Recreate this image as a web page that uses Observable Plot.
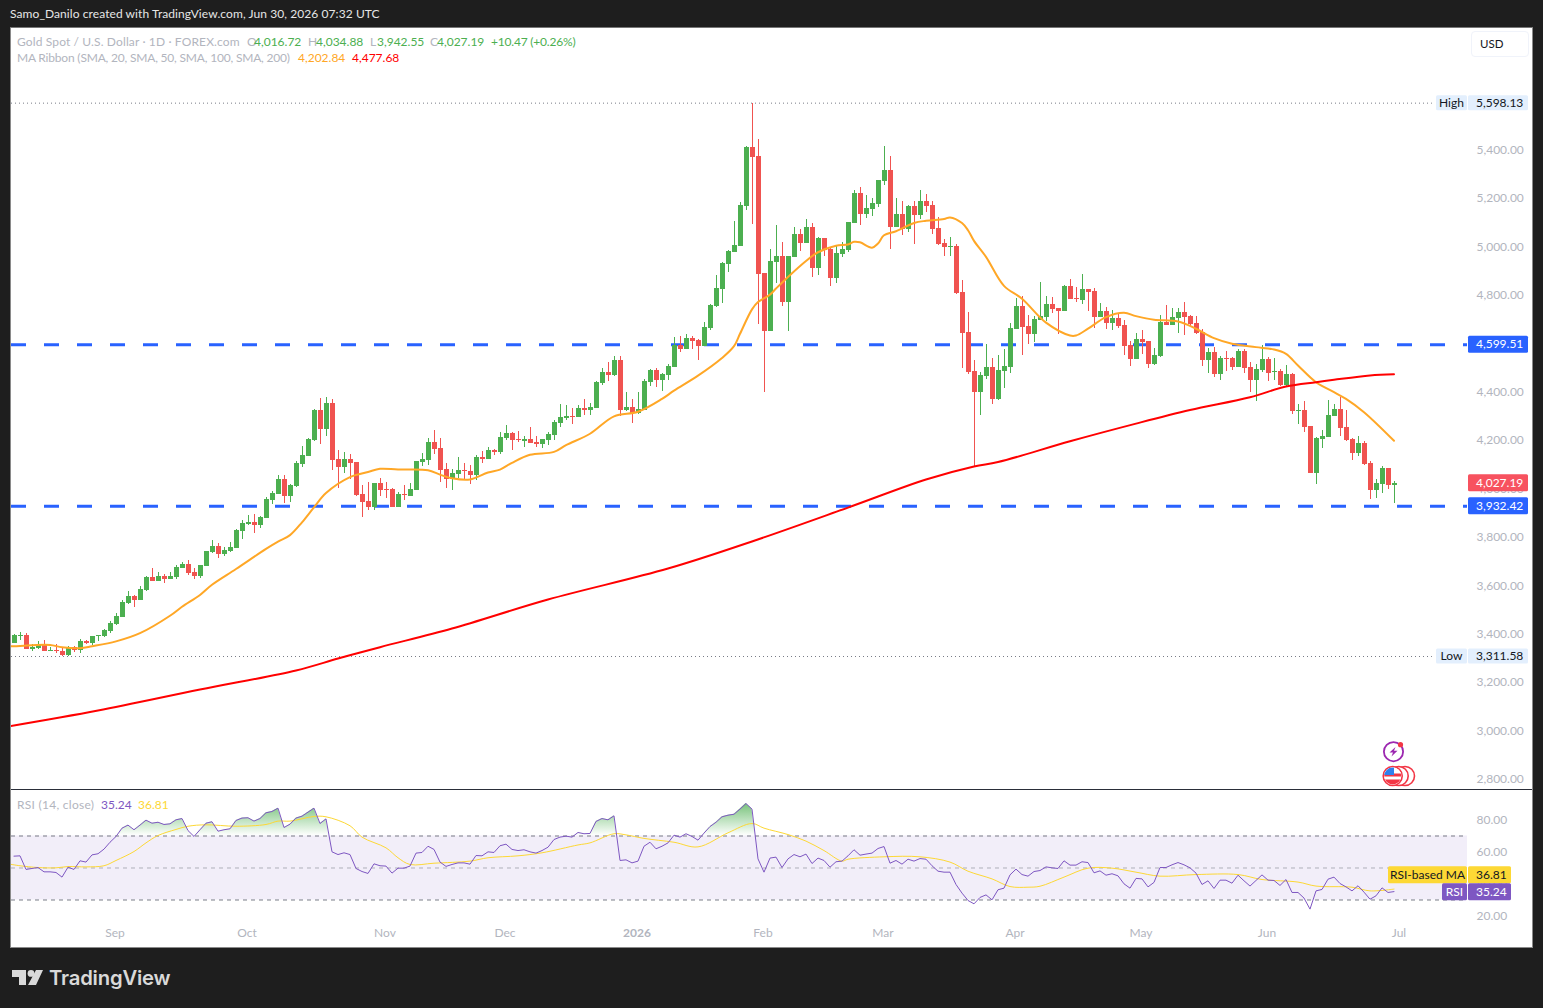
<!DOCTYPE html>
<html><head><meta charset="utf-8">
<script src="https://cdn.jsdelivr.net/npm/d3@7"></script>
<script src="https://cdn.jsdelivr.net/npm/@observablehq/plot@0.6"></script>
<style>
html,body{margin:0;padding:0;background:#1e1e1e;width:1543px;height:1008px;overflow:hidden;font-family:Lato,"Open Sans",sans-serif;font-size:12px}
#frame{position:absolute;left:10px;top:27px;width:1523px;height:921px;box-sizing:border-box;background:#fff;border:1px solid #8a8a8a;border-top-color:#777}
.t{position:absolute;white-space:pre;line-height:14px}
#price,#rsi{position:absolute;left:11px}
#price{top:28px}#rsi{top:790px}
#div{position:absolute;left:11px;top:789px;width:1521px;height:1px;background:#2a2e39}
svg{display:block;overflow:visible}
#usd{position:absolute;left:1471px;top:31px;width:58px;height:26px;box-sizing:border-box;border:1px solid #f0f3fa;border-radius:4px;background:#fff;color:#131722;line-height:24px;padding-left:8px;font-size:11.5px}
</style></head><body>
<div id="frame"></div>
<div class="t" style="left:10px;top:7px;color:#e6e6e6;letter-spacing:.08px">Samo_Danilo created with TradingView.com, Jun 30, 2026 07:32 UTC</div>
<div id="price"></div>
<div id="div"></div>
<div id="rsi"></div>
<div id="usd">USD</div>
<div id="legend"></div>
<svg style="position:absolute;left:0;top:0;pointer-events:none" width="1543" height="1008">
  <defs><clipPath id="fl"><circle cx="1392.7" cy="776" r="8.5"/></clipPath></defs>
  <g fill="#fff" stroke="#f23645" stroke-width="1.6">
    <circle cx="1405" cy="776" r="9.5"/><circle cx="1398.7" cy="776" r="9.5"/><circle cx="1392.7" cy="776" r="9.5"/>
  </g>
  <g clip-path="url(#fl)">
    <rect x="1384" y="767" width="18" height="18" fill="#fff"/>
    <rect x="1384" y="773.5" width="18" height="3" fill="#f23645"/>
    <rect x="1384" y="779.5" width="18" height="6" fill="#f23645"/>
    <rect x="1384" y="767" width="10" height="8" fill="#2f80ed"/>
  </g>
  <circle cx="1393.5" cy="751.7" r="9.6" fill="#fff" stroke="#9c27b0" stroke-width="1.8"/>
  <path d="M1395.5 747 L1389.5 752.5 L1393 752.5 L1391.5 756.5 L1397.5 750.8 L1394 750.8 Z" fill="#9c27b0"/>
  <circle cx="1400.5" cy="744.7" r="2.6" fill="#f23645"/>
  <g fill="#d9d9d9">
    <path d="M12 970 H26 V985 H19 V977 H12 Z"/><circle cx="31" cy="973.4" r="3.4"/><path d="M36 970 H43 L36 985 H28 Z"/>
  </g>
</svg>
<div class="t" style="left:49px;top:966px;color:#d9d9d9;font:600 20.3px/24px Inter,Lato,sans-serif;letter-spacing:-.2px">TradingView</div>
<script>
const opens=[3367,3394,3398,3342,3344,3356,3333,3335,3332,3314,
3349,3338,3372,3367,3394,3396,3416,3444,3474,3531,
3560,3545,3584,3637,3622,3642,3629,3637,3676,3691,
3658,3643,3684,3741,3766,3734,3745,3759,3829,3858,
3865,3854,3883,3958,3982,4043,3974,4014,4107,4140,
4205,4329,4250,4358,4126,4093,4126,4113,3981,3952,
3927,4026,4001,4001,3927,3981,3972,3997,4113,4121,
4196,4171,4084,4043,4063,4080,4076,4059,4134,4126,
4163,4155,4212,4233,4208,4200,4208,4196,4188,4204,
4225,4275,4295,4304,4299,4337,4328,4337,4440,4486,
4473,4535,4328,4341,4316,4328,4444,4494,4452,4473,
4506,4597,4580,4626,4618,4593,4667,4758,4828,4931,
4981,5006,5171,5415,5378,4894,4655,4940,4965,4774,
4960,5056,5018,5085,4915,5039,4993,4873,4973,4989,
5101,5225,5138,5159,5180,5275,5320,5085,5138,5076,
5171,5134,5192,5176,5080,5018,5002,5006,4815,4651,
4489,4402,4469,4506,4373,4489,4506,4663,4758,4675,
4642,4700,4713,4767,4750,4738,4841,4791,4783,4829,
4820,4713,4738,4688,4709,4680,4597,4539,4622,4613,
4518,4551,4692,4680,4709,4733,4717,4688,4651,4535,
4568,4477,4543,4543,4506,4572,4506,4452,4493,4539,
4485,4489,4431,4477,4324,4329,4262,4068,4209,4217,
4304,4333,4258,4209,4151,4192,4109,3997,4022,4089,4016.72];
const highs=[3402,3411,3405,3360,3373,3376,3350,3360,3350,3353,
3353,3383,3378,3395,3399,3422,3455,3489,3543,3580,
3564,3601,3644,3675,3658,3650,3658,3687,3702,3708,
3675,3688,3746,3791,3778,3760,3782,3836,3873,3894,
3898,3890,3969,3993,4060,4060,4021,4118,4180,4213,
4333,4378,4383,4374,4163,4155,4147,4114,4018,4030,
4027,4047,4030,4005,3989,4018,4026,4118,4150,4212,
4246,4212,4109,4084,4134,4109,4101,4142,4159,4175,
4167,4237,4266,4237,4241,4221,4258,4221,4209,4237,
4287,4353,4349,4337,4349,4374,4357,4448,4502,4527,
4552,4552,4403,4374,4403,4457,4498,4502,4481,4518,
4630,4634,4643,4634,4622,4692,4767,4886,4940,4989,
5109,5188,5420,5598.13,5448,4895,4993,5093,5023,4966,
5085,5076,5118,5101,5043,5040,4998,5010,5022,5106,
5238,5250,5217,5205,5280,5420,5378,5205,5192,5176,
5192,5238,5221,5192,5126,5035,5043,5014,4865,4734,
4535,4485,4601,4543,4556,4580,4688,4791,4800,4721,
4717,4858,4800,4796,4751,4845,4870,4837,4891,4830,
4833,4771,4754,4742,4729,4700,4613,4646,4659,4614,
4584,4721,4762,4750,4750,4775,4721,4717,4663,4584,
4589,4551,4572,4547,4580,4580,4526,4518,4597,4547,
4543,4497,4514,4481,4353,4366,4263,4217,4246,4370,
4354,4382,4329,4213,4221,4200,4118,4043,4097,4090,4034.88];
const lows=[3364,3378,3339,3333,3342,3332,3332,3325,3311.58,3312,
3328,3325,3361,3355,3373,3389,3408,3441,3473,3527,
3514,3543,3579,3621,3621,3614,3628,3631,3675,3647,
3629,3633,3683,3737,3716,3724,3742,3757,3796,3854,
3820,3842,3882,3940,3981,3944,3948,4011,4093,4138,
4200,4188,4221,4080,4007,4068,4043,3973,3885,3914,
3914,3972,3964,3926,3926,3956,3971,3996,4097,4101,
4146,4030,4005,3997,4047,4039,4022,4039,4109,4125,
4142,4146,4204,4163,4196,4175,4191,4175,4171,4183,
4204,4258,4287,4270,4298,4308,4308,4336,4432,4448,
4469,4304,4324,4275,4312,4327,4428,4424,4407,4452,
4505,4568,4579,4580,4535,4592,4659,4754,4770,4898,
4980,5005,5155,5097,4684,4402,4654,4853,4758,4655,
4959,4985,5017,4878,4886,4964,4840,4853,4960,4981,
5100,5093,5122,5130,5167,5258,4993,5084,5051,5064,
5014,5118,5147,5056,5010,4964,4964,4807,4502,4477,
4097,4307,4456,4353,4369,4419,4481,4662,4555,4601,
4609,4699,4696,4729,4642,4737,4786,4775,4767,4738,
4667,4712,4663,4659,4667,4555,4510,4538,4560,4502,
4514,4547,4679,4679,4646,4638,4671,4642,4510,4481,
4464,4452,4489,4493,4505,4481,4402,4365,4485,4448,
4452,4427,4423,4311,4271,4238,4067,4022,4171,4216,
4303,4221,4200,4122,4138,4101,3960,3964,3985,4002,3942.55];
const closes=[3398,3397,3342,3349,3357,3333,3336,3332,3314,3347,
3338,3373,3365,3394,3398,3418,3448,3477,3535,3560,
3545,3589,3637,3622,3642,3629,3642,3679,3691,3655,
3643,3687,3744,3766,3734,3749,3762,3832,3860,3865,
3854,3886,3960,3985,4043,3974,4018,4109,4142,4209,
4329,4250,4358,4123,4093,4126,4109,3977,3948,3927,
4026,3997,3997,3927,3981,3976,4001,4117,4126,4196,
4167,4080,4043,4068,4080,4076,4059,4134,4126,4163,
4155,4217,4233,4204,4204,4208,4192,4188,4208,4229,
4279,4299,4304,4299,4337,4328,4341,4444,4486,4473,
4535,4328,4341,4316,4333,4448,4494,4453,4477,4510,
4597,4580,4626,4614,4593,4672,4763,4832,4935,4985,
5010,5176,5416,5373,4890,4655,4944,4965,4774,4965,
5056,5018,5085,4915,5039,4989,4873,4977,4993,5105,
5225,5138,5163,5184,5279,5320,5085,5138,5076,5171,
5134,5192,5171,5076,5014,5002,5006,4811,4647,4485,
4402,4473,4506,4373,4493,4510,4667,4758,4671,4642,
4704,4717,4767,4746,4738,4841,4787,4787,4829,4816,
4713,4738,4688,4709,4675,4593,4539,4622,4609,4518,
4555,4692,4680,4713,4733,4713,4684,4646,4535,4568,
4477,4543,4539,4506,4572,4502,4452,4497,4539,4481,
4489,4431,4477,4324,4329,4258,4068,4213,4221,4308,
4333,4254,4204,4151,4192,4105,3997,4026,4089,4016.72,4027.19];

const ma20Bar=[-1,0,3,6,8,11,13,17,21,26,28,31,33,37,42,44,46,48,50,52,56,59,61,64,69,71,73,76,79,81,83,86,90,92,96,100,104,108,110,114,118,120,121,123,124,126,127,129,132,134,137,139,140,141,143,144,145,147,150,152,155,156,158,159,160,162,165,168,172,176,177,179,182,185,187,190,194,197,200,203,207,210,212,214,217,220,222,225,230];
const ma20Val=[3353,3354,3358,3359,3350,3346,3354,3374,3408,3480,3517,3566,3608,3673,3756,3786,3813,3866,3928,3987,4053,4074,4087,4084,4081,4063,4048,4043,4072,4084,4112,4145,4157,4185,4232,4304,4323,4376,4410,4472,4545,4594,4645,4746,4776,4807,4832,4880,4946,4982,5009,5014,5025,5023,5001,5018,5052,5069,5103,5112,5119,5126,5103,5073,5029,4963,4843,4790,4691,4638,4638,4666,4714,4732,4718,4703,4696,4666,4627,4604,4590,4580,4562,4514,4445,4404,4376,4321,4202.84];
const ma200Bar=[-1,14,31,47,54,61,73,89,109,123,139,152,160,164,176,187,196,206,212,217,220,226,230];
const ma200Val=[3022,3088,3175,3254,3303,3350,3427,3547,3675,3787,3927,4043,4097,4115,4201,4274,4330,4383,4427,4445,4455,4473,4477.68];

const rsiVal=[57.4,57.6,49.1,49.7,50.3,47.6,47.6,47.2,44.3,50.5,
49.1,54.5,53.7,58.2,58.9,61.8,66.1,69.7,74.9,76.8,
73.9,76.8,79.9,78.0,78.6,77.2,77.6,80.1,80.9,73.4,
69.7,73.9,78.0,78.9,73.0,73.9,74.5,79.7,81.2,81.4,
79.3,80.9,84.5,85.3,87.4,75.3,77.4,81.2,82.4,84.9,
87.4,77.8,80.7,60.1,58.4,59.5,58.4,49.7,47.8,46.6,
52.6,51.4,51.2,46.8,49.9,49.9,51.2,59.3,59.7,63.6,
61.6,53.7,51.0,52.2,53.2,53.2,52.4,57.8,57.6,60.1,
59.7,63.9,64.9,61.6,60.9,61.4,60.1,59.3,60.9,63.0,
67.8,69.3,69.9,69.3,72.2,71.4,71.6,79.1,80.9,80.1,
82.6,54.7,55.1,53.2,54.3,63.6,66.1,62.0,63.6,65.7,
70.5,69.3,71.4,69.7,67.4,71.8,75.9,78.6,82.0,83.0,
83.6,86.8,90.3,86.8,55.7,47.4,56.2,56.8,50.3,55.7,
58.4,57.0,58.7,52.8,56.2,54.7,50.5,53.9,54.3,57.6,
61.4,58.0,58.7,59.3,62.2,63.4,53.0,54.7,52.4,55.5,
54.3,55.9,55.5,51.4,48.0,47.4,47.4,39.7,34.3,29.7,
27.6,31.6,33.2,30.1,36.4,37.4,45.7,49.3,45.9,44.9,
47.8,48.4,50.7,50.1,49.7,54.5,51.8,51.8,53.9,53.4,
47.0,48.2,45.5,46.4,45.1,40.1,37.4,43.5,43.2,38.2,
41.0,50.3,50.3,52.0,53.4,52.0,50.1,46.8,39.7,42.0,
37.2,42.4,42.4,40.5,45.5,42.0,38.7,42.2,45.7,42.4,
42.2,39.1,42.8,34.7,34.7,31.2,24.3,35.7,36.6,43.0,
44.3,40.3,38.2,35.7,38.9,34.9,30.5,32.6,37.6,34.7,35.24];
const rsiMaBar=[-1,1,4,7,9,12,15,17,20,22,24,27,29,32,37,42,44,46,50,52,56,58,62,64,66,70,76,79,84,88,94,96,100,102,105,110,114,119,123,125,129,132,135,138,139,145,151,156,159,163,166,169,171,175,179,183,187,191,197,204,208,214,217,223,226,230];
const rsiMaVal=[52.6,51.4,50.3,50.1,50.9,50.7,51.4,54.7,60.3,65.7,70.3,74.1,76.1,77.0,76.1,77.2,79.3,79.3,82.2,82.0,76.4,69.3,62.6,56.4,52.2,53.0,54.3,56.4,57.6,59.5,64.4,65.7,71.4,70.7,68.5,66.1,63.2,72.0,77.8,74.9,70.9,66.8,60.9,54.3,55.5,57.0,57.0,53.7,48.0,43.2,38.4,38.0,38.6,44.3,49.9,49.9,47.4,44.9,45.9,45.9,42.8,41.2,38.7,38.0,35.7,36.81];

const levels=[4599.51,3932.42];
const extremes=[5598.13,3311.58];
const priceTicks=[2800,3000,3200,3400,3600,3800,4000,4200,4400,4600,4800,5000,5200,5400];
const rsiTicks=[20,40,60,80];
const rsiBands=[70,50,30];
const monthBars=[17,39,62,82,125,145,167,188,209,231];
const monthNames=["Sep","Oct","Nov","Dec","Feb","Mar","Apr","May","Jun","Jul"];
const yearBars=[104];
const yearNames=["2026"];

const bars=d3.range(closes.length);
const UP="#4caf50",DOWN="#f05350",GREY="#b2b5be",FONT='Lato,"Open Sans",sans-serif';
const colorOf=i=>closes[i]>=opens[i]?UP:DOWN;
const ma20=ma20Bar.map((b,k)=>({b,v:ma20Val[k]}));
const ma200=ma200Bar.map((b,k)=>({b,v:ma200Val[k]}));
const rsi=bars.map(b=>({b,v:rsiVal[b]}));
const rsiMa=rsiMaBar.map((b,k)=>({b,v:rsiMaVal[k]}));
const xDomain=[-0.4167,242.25];

function tag(value,label,fill,color,opts={}){
  return (index,{y})=>{
    const g=d3.create("svg:g").attr("font-family",FONT).attr("font-size",12).attr("text-anchor","start");
    const cy=opts.cy!==undefined?opts.cy:y(value), h=opts.h||17, vx=opts.vx||1457, vw=opts.vw||60;
    g.append("rect").attr("x",vx).attr("y",cy-h/2).attr("width",vw).attr("height",h).attr("rx",1.5).attr("fill",fill);
    g.append("text").attr("x",opts.tx||1465).attr("y",cy).attr("dy","0.34em").attr("text-anchor","start").attr("fill",color).text(opts.text);
    if(label){
      g.append("rect").attr("x",vx-1-opts.lw).attr("y",cy-h/2).attr("width",opts.lw).attr("height",h).attr("rx",1.5).attr("fill",fill);
      g.append("text").attr("x",vx-1-opts.lw/2).attr("y",cy).attr("dy","0.34em").attr("text-anchor","middle").attr("fill",color).text(label);
    }
    return g.node();
  };
}

const pricePlot=Plot.plot({
  width:1521,height:761,marginTop:0,marginBottom:0,marginLeft:0,marginRight:65,
  style:{fontFamily:FONT,fontSize:"12px",background:"transparent",overflow:"visible"},
  x:{domain:xDomain,axis:null},
  y:{domain:[5906.6,2762],range:[0,761]},
  marks:[
    Plot.ruleY(extremes,{x1:xDomain[0],x2:236.4,y:d=>d,stroke:"#787b86",strokeDasharray:"1 3",strokeWidth:1}),
    Plot.ruleY(levels,{y:d=>d,stroke:"#2962ff",strokeWidth:3,strokeDasharray:"15 18",x1:xDomain[0],x2:xDomain[1]}),
    Plot.ruleX(bars,{x:d=>d,y1:d=>lows[d],y2:d=>highs[d],stroke:colorOf,strokeWidth:1,shapeRendering:"crispEdges"}),
    Plot.ruleX(bars,{x:d=>d,y1:d=>opens[d],y2:d=>closes[d],stroke:colorOf,strokeWidth:5,shapeRendering:"crispEdges"}),
    Plot.line(ma20,{x:"b",y:"v",stroke:"#ffa726",strokeWidth:2,curve:"catmull-rom",clip:true}),
    Plot.line(ma200,{x:"b",y:"v",stroke:"#ff0000",strokeWidth:2,curve:"catmull-rom",clip:true}),
    Plot.axisY({ticks:priceTicks,anchor:"right",tickSize:0,tickPadding:9,dy:-1,label:null,tickFormat:d3.format(",.2f"),color:GREY}),
    tag(extremes[0],"High","#e3effd","#131722",{text:"5,598.13",h:15,lw:31}),
    tag(extremes[1],"Low","#e3effd","#131722",{text:"3,311.58",h:15,lw:31}),
    tag(levels[0],null,"#2962ff","#fff",{text:"4,599.51"}),
    tag(4027.19,null,"#f7525f","#fff",{text:"4,027.19"}),
    tag(levels[1],null,"#2962ff","#fff",{text:"3,932.42"})
  ]
});
document.getElementById("price").appendChild(pricePlot);

const rsiPlot=Plot.plot({
  width:1521,height:157,marginTop:0,marginBottom:22,marginLeft:0,marginRight:65,
  style:{fontFamily:FONT,fontSize:"12px",background:"transparent",overflow:"visible"},
  x:{domain:xDomain},
  y:{domain:[14.06,98.44]},
  marks:[
    (index,{y})=>{
      const d=d3.create("svg:defs");
      const g=d.append("linearGradient").attr("id","rsiFill").attr("gradientUnits","userSpaceOnUse")
        .attr("x1",0).attr("x2",0).attr("y1",y(90)).attr("y2",y(70));
      g.append("stop").attr("offset",0).attr("stop-color","#4caf50").attr("stop-opacity",0.75);
      g.append("stop").attr("offset",1).attr("stop-color","#4caf50").attr("stop-opacity",0);
      return d.node();
    },
    Plot.rect([0],{x1:xDomain[0],x2:xDomain[1],y1:30,y2:70,fill:"#7e57c2",fillOpacity:0.1}),
    Plot.ruleY(rsiBands,{y:d=>d,x1:xDomain[0],x2:xDomain[1],stroke:"#787b86",strokeOpacity:d=>d===50?0.55:1,strokeWidth:1,strokeDasharray:"4 4"}),
    Plot.areaY(rsi,{x:"b",y1:70,y2:"v",fill:"url(#rsiFill)"}),
    Plot.line(rsiMa,{x:"b",y:"v",stroke:"#fdd835",strokeWidth:1,curve:"catmull-rom",clip:true}),
    Plot.line(rsi,{x:"b",y:"v",stroke:"#7e57c2",strokeWidth:1}),
    Plot.axisY({ticks:rsiTicks,anchor:"right",tickSize:0,tickPadding:9,label:null,tickFormat:d3.format(".2f"),color:GREY}),
    Plot.axisX({ticks:monthBars,tickFormat:d=>monthNames[monthBars.indexOf(d)],tickSize:0,tickPadding:3,dx:-1,label:null,color:GREY}),
    Plot.axisX({ticks:yearBars,tickFormat:d=>yearNames[yearBars.indexOf(d)],tickSize:0,tickPadding:3,dx:-1,label:null,color:GREY,fontWeight:"bold"}),
    tag(36.81,"RSI-based MA","#fdd835","#131722",{text:"36.81",cy:84.7,vw:43,lw:79}),
    tag(35.24,"RSI","#7e57c2","#fff",{text:"35.24",cy:101.7,vw:43,lw:25})
  ]
});
document.getElementById("rsi").appendChild(rsiPlot);

const legend=[
 [17,42,"Gold Spot / U.S. Dollar · 1D · FOREX.com",GREY,.13],
 [247,42,"O",GREY,0],[254,42,"4,016.72",UP,0],[308,42,"H",GREY,0],[316,42,"4,034.88",UP,0],
 [370,42,"L",GREY,0],[377,42,"3,942.55",UP,0],[430,42,"C",GREY,0],[437,42,"4,027.19",UP,0],[491,42,"+10.47 (+0.26%)",UP,-.2],
 [17,58,"MA Ribbon (SMA, 20, SMA, 50, SMA, 100, SMA, 200)",GREY,-.19],[298,58,"4,202.84","#ffa726",0],[352,58,"4,477.68","#ff0000",0],
 [17,805,"RSI (14, close)",GREY,.27],[101,805,"35.24","#7e57c2",0],[138,805,"36.81","#fdd835",0]
];
const lg=document.getElementById("legend");
legend.forEach(([x,y,s,c,ls])=>{const e=document.createElement("div");e.className="t";e.style.cssText=`left:${x}px;top:${y-7}px;color:${c};letter-spacing:${ls}px`;e.textContent=s;lg.appendChild(e);});
</script>
</body></html>
